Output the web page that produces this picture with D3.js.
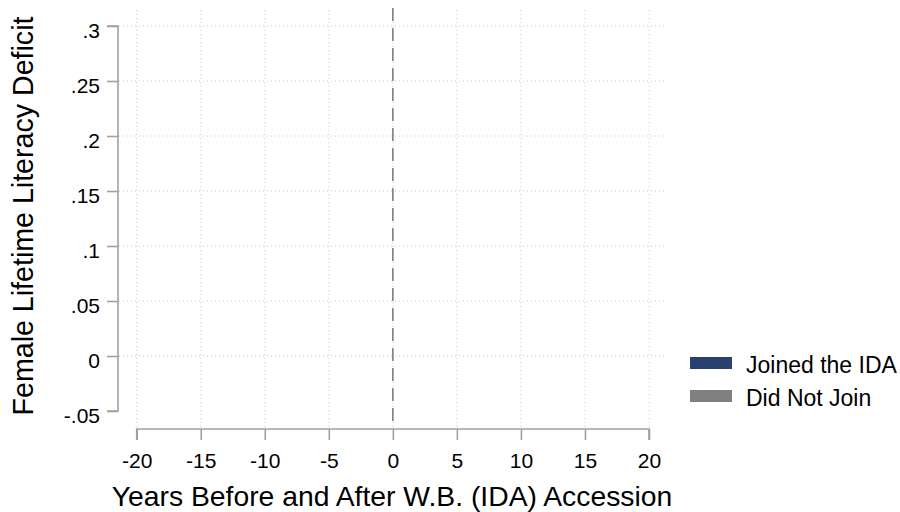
<!DOCTYPE html>
<html><head><meta charset="utf-8">
<script src="https://cdn.jsdelivr.net/npm/d3@7"></script>
<style>body{margin:0;background:#fff}svg{display:block}text{font-family:"Liberation Sans",Arial,Helvetica,sans-serif;fill:#000}</style>
</head><body>
<svg id="c" width="900" height="512"></svg>
<script>
const xTicks = [-20,-15,-10,-5,0,5,10,15,20];
const xTickLabels = ["-20","-15","-10","-5","0","5","10","15","20"];
const yTicks = [-0.05,0,0.05,0.1,0.15,0.2,0.25,0.3];
const yTickLabels = ["-.05","0",".05",".1",".15",".2",".25",".3"];
const seriesNames = ["Joined the IDA","Did Not Join"];
const seriesColors = ["#2a4170","#808080"];
const eventYear = [0];
const xLabel = "Years Before and After W.B. (IDA) Accession";
const yLabel = "Female Lifetime Literacy Deficit";

const svg = d3.select("#c");
const x = d3.scaleLinear().domain([-20,20]).range([136.7,649]);
const y = d3.scaleLinear().domain([-0.05,0.3]).range([411,26]);
const plotL = 119, plotR = 667, plotT = 10, plotB = 428;

// grid
const g = svg.append("g");
g.selectAll(".vg").data(xTicks).join("line")
  .attr("x1",d=>x(d)).attr("x2",d=>x(d)).attr("y1",plotT).attr("y2",plotB)
  .attr("stroke","#c8c8c8").attr("stroke-width",1).attr("stroke-dasharray","1,3");
g.selectAll(".hg").data(yTicks.filter(d=>d>=0)).join("line")
  .attr("x1",plotL).attr("x2",plotR).attr("y1",d=>y(d)).attr("y2",d=>y(d))
  .attr("stroke","#c8c8c8").attr("stroke-width",1).attr("stroke-dasharray","1,3");

// event line
svg.selectAll(".ev").data(eventYear).join("line")
  .attr("x1",d=>x(d)).attr("x2",d=>x(d)).attr("y1",8).attr("y2",plotB)
  .attr("stroke","#808080").attr("stroke-width",1.6).attr("stroke-dasharray","13,7");

// axes
const yAxis = d3.axisLeft(y).tickValues(yTicks).tickFormat((d,i)=>yTickLabels[i]).tickSize(11).tickPadding(7);
const ya = svg.append("g").attr("transform","translate(118,0)").call(yAxis);
const xAxis = d3.axisBottom(x).tickValues(xTicks).tickFormat((d,i)=>xTickLabels[i]).tickSize(11).tickPadding(8);
const xa = svg.append("g").attr("transform","translate(0,429)").call(xAxis);
[ya,xa].forEach(a=>{
  a.attr("font-size",null).attr("font-family",null);
  a.select(".domain").attr("stroke","#a0a0a0").attr("stroke-width",1.6);
  a.selectAll(".tick line").attr("stroke","#a0a0a0").attr("stroke-width",1.6);
  a.selectAll(".tick text").style("font-size","21px").attr("fill","#000");
});
ya.select(".domain").attr("d","M-11,"+y(0.3)+"H0V"+y(-0.05)+"H-11");
xa.select(".domain").attr("d","M"+x(-20)+",11V0H"+x(20)+"V11");
ya.selectAll(".tick text").attr("dy",null).attr("y",11);
xa.selectAll(".tick text").attr("dy",null).attr("y",39);

// labels
svg.append("text").attr("x",392).attr("y",506).attr("text-anchor","middle").style("font-size","28.3px").text(xLabel);
svg.append("text").attr("transform","translate(33,216) rotate(-90)").attr("text-anchor","middle").style("font-size","28.6px").text(yLabel);

// legend
const lg = svg.append("g");
seriesNames.forEach((n,i)=>{
  lg.append("rect").attr("x",690).attr("y",357+i*33).attr("width",42).attr("height",12).attr("fill",seriesColors[i]);
  lg.append("text").attr("x",746).attr("y",373+i*33).style("font-size","23px").text(n);
});
</script>
</body></html>
